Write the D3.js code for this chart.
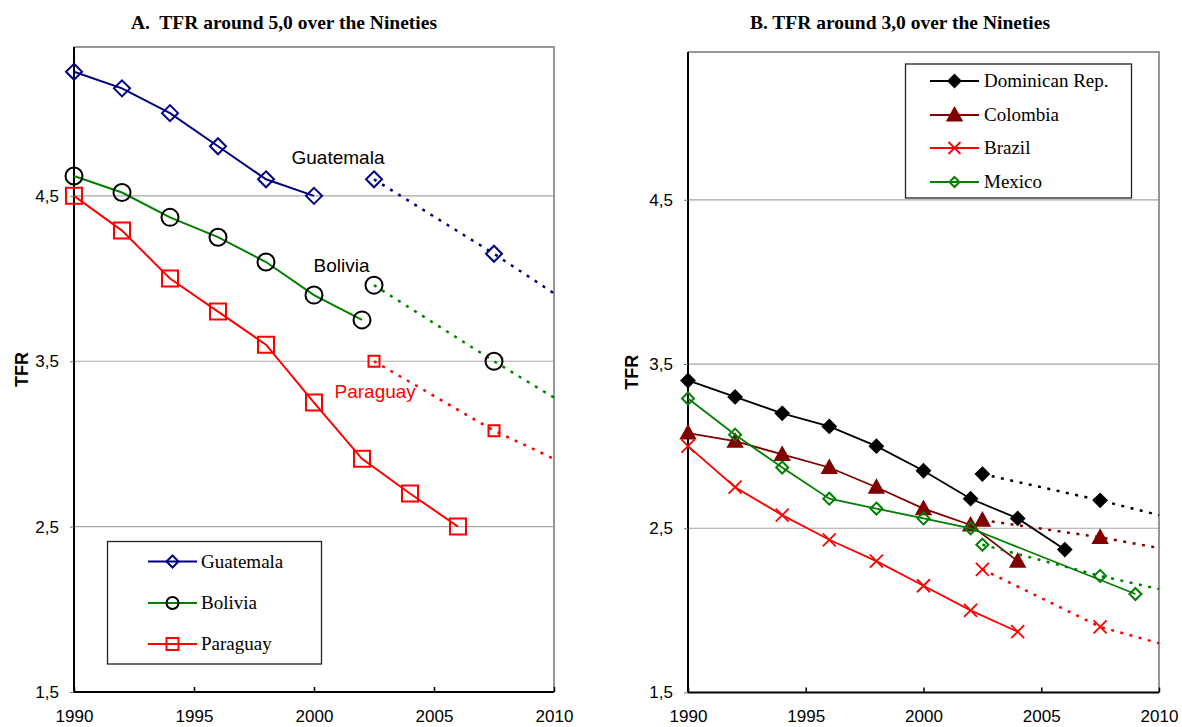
<!DOCTYPE html>
<html>
<head>
<meta charset="utf-8">
<script src="https://cdn.jsdelivr.net/npm/d3@7"></script>
<style>
  body { margin: 0; background: #fff; }
  svg { display: block; }
  .tick-label { font-family: "Liberation Sans", Arial, sans-serif; font-size: 17px; fill: #000; }
  .axis-title { font-family: "Liberation Sans", Arial, sans-serif; font-size: 18px; font-weight: bold; }
  .panel-title { font-family: "Liberation Serif", "Times New Roman", serif; font-size: 19.5px; font-weight: bold; white-space: pre; }
  .legend-text { font-family: "Liberation Serif", "Times New Roman", serif; font-size: 19px; }
  .series-label { font-family: "Liberation Sans", Arial, sans-serif; font-size: 19px; }
</style>
</head>
<body>
<div id="chart"></div>
<script>
// ---- data ----
const xTicks = [1990, 1995, 2000, 2005, 2010];
const yTicks = [1.5, 2.5, 3.5, 4.5];
const projYears = [2002.5, 2007.5, 2010];

// Panel A
const guatemalaYears = [1990, 1992, 1994, 1996, 1998, 2000];
const guatemalaTFR = [5.25, 5.15, 5.0, 4.8, 4.6, 4.5];
const guatemalaProj = [4.6, 4.15, 3.91];

const boliviaYears = [1990, 1992, 1994, 1996, 1998, 2000, 2002];
const boliviaTFR = [4.62, 4.52, 4.37, 4.25, 4.1, 3.9, 3.75];
const boliviaProj = [3.96, 3.5, 3.28];

const paraguayYears = [1990, 1992, 1994, 1996, 1998, 2000, 2002, 2004, 2006];
const paraguayTFR = [4.5, 4.29, 4.0, 3.8, 3.6, 3.25, 2.91, 2.7, 2.5];
const paraguayProj = [3.5, 3.08, 2.91];

// Panel B
const domRepYears = [1990, 1992, 1994, 1996, 1998, 2000, 2002, 2004, 2006];
const domRepTFR = [3.4, 3.3, 3.2, 3.12, 3.0, 2.85, 2.68, 2.56, 2.37];
const domRepProj = [2.83, 2.67, 2.58];

const colombiaYears = [1990, 1992, 1994, 1996, 1998, 2000, 2002, 2004];
const colombiaTFR = [3.08, 3.03, 2.95, 2.87, 2.75, 2.62, 2.52, 2.3];
const colombiaProj = [2.55, 2.445, 2.38];

const brazilYears = [1990, 1992, 1994, 1996, 1998, 2000, 2002, 2004];
const brazilTFR = [3.0, 2.75, 2.58, 2.43, 2.3, 2.15, 2.0, 1.87];
const brazilProj = [2.25, 1.9, 1.8];

const mexicoYears = [1990, 1992, 1994, 1996, 1998, 2000, 2002, 2009];
const mexicoTFR = [3.29, 3.07, 2.87, 2.68, 2.62, 2.56, 2.5, 2.1];
const mexicoProj = [2.4, 2.21, 2.13];

const zip = (xs, ys) => xs.map((x, i) => ({ x, y: ys[i] }));

// marker shapes, centred on 0,0
function markerPath(type, h) {
  switch (type) {
    case "diamond": return `M0,${-h}L${h},0L0,${h}L${-h},0Z`;
    case "square": return `M${-h},${-h}H${h}V${h}H${-h}Z`;
    case "triangle": return `M0,${-h}L${h},${h * 0.8}L${-h},${h * 0.8}Z`;
    case "x": return `M${-h},${-h}L${h},${h}M${-h},${h}L${h},${-h}`;
    case "circle": return `M${h},0A${h},${h} 0 1,1 ${-h},0A${h},${h} 0 1,1 ${h},0Z`;
  }
}

const svg = d3.select("#chart").append("svg")
  .attr("width", 1182)
  .attr("height", 727);

function drawMarkers(g, pts, s, size) {
  g.selectAll(null)
    .data(pts)
    .enter()
    .append("path")
    .attr("transform", (d) => `translate(${d.px},${d.py})`)
    .attr("d", markerPath(s.marker, size))
    .attr("fill", s.filled ? s.markerColor : "none")
    .attr("stroke", s.markerColor)
    .attr("stroke-width", s.marker === "x" ? 1.8 : 2);
}

function drawPanel(cfg) {
  const x = d3.scaleLinear().domain([1990, 2010]).range([cfg.left, cfg.right]);
  const y = d3.scaleLinear().domain([1.5, 5.4]).range([cfg.bottom, cfg.top]);
  const g = svg.append("g");

  // gridlines
  g.selectAll(".grid")
    .data(yTicks.slice(1))
    .enter()
    .append("line")
    .attr("x1", cfg.left)
    .attr("x2", cfg.right)
    .attr("y1", (d) => y(d))
    .attr("y2", (d) => y(d))
    .attr("stroke", "#a6a6a6")
    .attr("stroke-width", 1.2);

  // plot border (top/right grey)
  g.append("path")
    .attr("d", `M${cfg.left},${cfg.top}H${cfg.right}V${cfg.bottom}`)
    .attr("fill", "none")
    .attr("stroke", "#969696")
    .attr("stroke-width", 2);

  // y axis
  const yAxis = g.append("g").attr("transform", `translate(${cfg.left},0)`)
    .call(d3.axisLeft(y).tickValues(yTicks).tickSize(4)
      .tickFormat((d) => d3.format(".1f")(d).replace(".", ",")));
  yAxis.select(".domain").attr("stroke", "#000").attr("stroke-width", 2)
    .attr("d", `M0,${cfg.top}V${cfg.bottom}`);
  yAxis.selectAll(".tick line").attr("stroke", "#777");
  yAxis.selectAll(".tick text").attr("class", "tick-label").attr("x", -15);

  // x axis
  const xAxis = g.append("g").attr("transform", `translate(0,${cfg.bottom})`)
    .call(d3.axisBottom(x).tickValues(xTicks).tickSize(-5).tickFormat(d3.format("d")));
  xAxis.select(".domain").attr("stroke", "#000").attr("stroke-width", 2)
    .attr("d", `M${cfg.left},0H${cfg.right}`);
  xAxis.selectAll(".tick line").attr("stroke", "#000").attr("stroke-width", 1.5);
  xAxis.selectAll(".tick text").attr("class", "tick-label")
    .attr("y", 722 - cfg.bottom).attr("dy", null);
  g.selectAll(".tick text").attr("font-family", null).attr("font-size", null);

  // titles
  svg.append("text").attr("class", "panel-title")
    .attr("x", cfg.titleX).attr("y", 29)
    .attr("text-anchor", "middle")
    .text(cfg.title);
  svg.append("text").attr("class", "axis-title")
    .attr("transform", `translate(${cfg.yLabelX},${(cfg.top + cfg.bottom) / 2}) rotate(-90)`)
    .attr("text-anchor", "middle")
    .attr("dy", "0.35em")
    .text("TFR");

  const line = d3.line().x((d) => d.px).y((d) => d.py);

  cfg.series.forEach((s) => {
    const pts = zip(s.years, s.values).map((d) => ({ px: x(d.x), py: y(d.y) }));
    const proj = zip(projYears, s.proj).map((d) => ({ px: x(d.x), py: y(d.y) }));

    g.append("path")
      .datum(proj)
      .attr("d", line)
      .attr("fill", "none")
      .attr("stroke", s.color)
      .attr("stroke-width", 2.5)
      .attr("stroke-dasharray", "3,6.5");
    drawMarkers(g, proj.slice(0, 2), s, s.projSize || s.size);

    g.append("path")
      .datum(pts)
      .attr("d", line)
      .attr("fill", "none")
      .attr("stroke", s.color)
      .attr("stroke-width", cfg.lineWidth);
    drawMarkers(g, pts, s, s.size);
  });

  // legend
  const lg = cfg.legend;
  g.append("rect")
    .attr("x", lg.x).attr("y", lg.y)
    .attr("width", lg.w).attr("height", lg.h)
    .attr("fill", "#fff")
    .attr("stroke", "#222")
    .attr("stroke-width", 1.3);
  cfg.series.forEach((s, i) => {
    const cy = lg.rows[i];
    g.append("line")
      .attr("x1", lg.lineX1).attr("x2", lg.lineX2)
      .attr("y1", cy).attr("y2", cy)
      .attr("stroke", s.color)
      .attr("stroke-width", 2.2);
    drawMarkers(g, [{ px: (lg.lineX1 + lg.lineX2) / 2, py: cy }], s, s.legendSize);
    g.append("text").attr("class", "legend-text")
      .attr("x", lg.textX).attr("y", cy)
      .attr("dy", "0.33em")
      .text(s.name);
  });

  // in-plot series labels (anchored by year / TFR position)
  (cfg.labels || []).forEach((l) => {
    g.append("text").attr("class", "series-label")
      .attr("x", x(l.year)).attr("y", y(l.value))
      .attr("text-anchor", "middle")
      .attr("fill", l.color)
      .text(l.text);
  });
}

drawPanel({
  left: 74, right: 554, top: 47, bottom: 692,
  title: "A.  TFR around 5,0 over the Nineties", titleX: 284, yLabelX: 22,
  lineWidth: 2,
  series: [
    { name: "Guatemala", years: guatemalaYears, values: guatemalaTFR, proj: guatemalaProj,
      color: "#000080", markerColor: "#000080", marker: "diamond", size: 8, legendSize: 6 },
    { name: "Bolivia", years: boliviaYears, values: boliviaTFR, proj: boliviaProj,
      color: "#008000", markerColor: "#000", marker: "circle", size: 8.5, legendSize: 6 },
    { name: "Paraguay", years: paraguayYears, values: paraguayTFR, proj: paraguayProj,
      color: "#ff0000", markerColor: "#ff0000", marker: "square", size: 8, projSize: 5.5, legendSize: 6 }
  ],
  legend: { x: 107.5, y: 541.5, w: 214, h: 122.5, rows: [561.5, 603, 644],
    lineX1: 148, lineX2: 197, textX: 201 },
  labels: [
    { text: "Guatemala", year: 2001, value: 4.69, color: "#000" },
    { text: "Bolivia", year: 2001.15, value: 4.04, color: "#000" },
    { text: "Paraguay", year: 2002.55, value: 3.28, color: "#ff0000" }
  ]
});

drawPanel({
  left: 688, right: 1159, top: 52, bottom: 692.5,
  title: "B. TFR around 3,0 over the Nineties", titleX: 900, yLabelX: 632,
  lineWidth: 1.8,
  series: [
    { name: "Dominican Rep.", years: domRepYears, values: domRepTFR, proj: domRepProj,
      color: "#000", markerColor: "#000", marker: "diamond", filled: true, size: 6.5, legendSize: 6 },
    { name: "Colombia", years: colombiaYears, values: colombiaTFR, proj: colombiaProj,
      color: "#800000", markerColor: "#800000", marker: "triangle", filled: true, size: 7, legendSize: 7 },
    { name: "Brazil", years: brazilYears, values: brazilTFR, proj: brazilProj,
      color: "#ff0000", markerColor: "#ff0000", marker: "x", size: 6.5, legendSize: 6 },
    { name: "Mexico", years: mexicoYears, values: mexicoTFR, proj: mexicoProj,
      color: "#008000", markerColor: "#008000", marker: "diamond", size: 6, legendSize: 5 }
  ],
  legend: { x: 905.5, y: 64, w: 226, h: 134, rows: [81, 115, 148, 182],
    lineX1: 930, lineX2: 979, textX: 984 }
});
</script>
</body>
</html>
